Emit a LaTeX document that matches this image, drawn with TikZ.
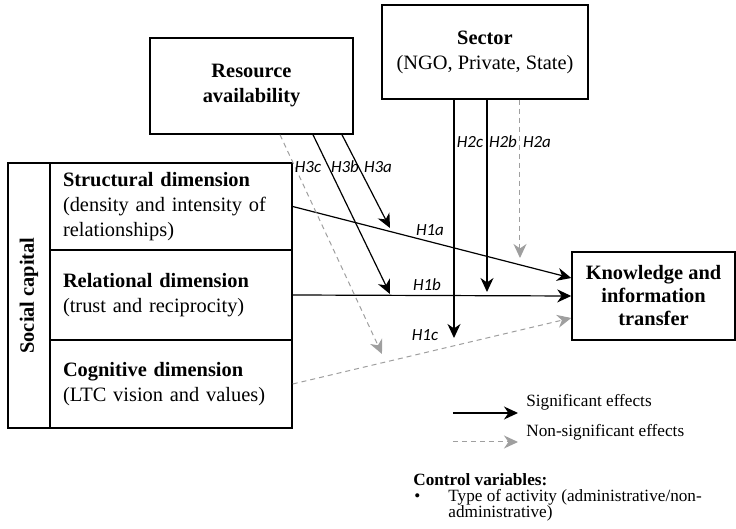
\documentclass[tikz,border=0pt]{standalone}
\usepackage{fontspec}
\setmainfont{Liberation Serif}
\newfontfamily\hlabelfont{Carlito}
\usetikzlibrary{arrows.meta}
\begin{document}
\begin{tikzpicture}[x=0.5pt,y=-0.5pt,
box/.style={draw,line width=0.75pt,align=center,inner sep=0pt,font=\fontsize{10.2}{12.5}\selectfont},
dimbox/.style={box,align=left,text width=108pt,inner xsep=6.5pt,minimum width=121pt},
sig/.style={line width=0.6pt,-{Stealth[length=7pt,width=6.5pt,inset=2.2pt]}},
nonsig/.style={draw=gray!75,line width=0.5pt,dash pattern=on 2.5pt off 2pt,-{Stealth[length=7pt,width=6.5pt,inset=2.2pt,fill=gray!75]}},
hyp/.style={font=\fontsize{8.5}{10}\hlabelfont\itshape,inner sep=0pt},
legend/.style={font=\fontsize{8.6}{10}\selectfont,anchor=base west,inner sep=0pt}]
\useasboundingbox (0,0) rectangle (736,529);
\node[box,rotate=90,minimum width=132.5pt,minimum height=21pt] (soc) at (29,295.5) {\textbf{Social capital}};
\node[dimbox,minimum height=43.5pt] (struct) at (171,206.5) {\textbf{Structural dimension}\\(density and intensity of\\relationships)};
\node[dimbox,minimum height=45pt] (rel) at (171,295) {\textbf{Relational dimension}\\(trust and reciprocity)};
\node[dimbox,minimum height=44pt] (cog) at (171,384) {\textbf{Cognitive dimension}\\(LTC vision and values)};
\node[box,minimum width=101.5pt,minimum height=48pt] (res) at (251.5,86) {\textbf{Resource}\\\textbf{availability}};
\node[box,minimum width=103pt,minimum height=47pt] (sec) at (485,52) {\textbf{Sector}\\(NGO, Private, State)};
\node[box,minimum width=81.5pt,minimum height=44pt,font=\fontsize{10.2}{11.5}\selectfont\bfseries] (know) at (653.5,296) {Knowledge and\\information\\transfer};
\coordinate (h3a-tip) at (390,228);
\coordinate (h3b-tip) at (390,294);
\coordinate (h3c-tip) at (382,354);
\coordinate (h2c-tip) at (454,338);
\coordinate (h2b-tip) at (487,292);
\coordinate (h2a-tip) at (520,258);
\draw[sig] (struct.east) -- ([yshift=9pt]know.west);
\draw[sig] (rel.east) -- (know.west);
\draw[nonsig] (cog.east) -- ([yshift=-11pt]know.west);
\draw[sig] ([xshift=45.25pt]res.south) -- (h3a-tip);
\draw[sig] ([xshift=30.75pt]res.south) -- (h3b-tip);
\draw[nonsig] ([xshift=14.25pt]res.south) -- (h3c-tip);
\draw[sig] ([xshift=-15.5pt]sec.south) -- (h2c-tip);
\draw[sig] ([xshift=1pt]sec.south) -- (h2b-tip);
\draw[nonsig] ([xshift=17.5pt]sec.south) -- (h2a-tip);
\node[hyp] (h1a) at (430,230) {H1a};
\node[hyp] (h1b) at (427,285) {H1b};
\node[hyp] (h1c) at (425,335) {H1c};
\node[hyp] (h3c) at (308,167) {H3c};
\node[hyp] (h3b) at (345,167) {H3b};
\node[hyp] (h3a) at (378,167) {H3a};
\node[hyp] (h2c) at (470,142) {H2c};
\node[hyp] (h2b) at (503,142) {H2b};
\node[hyp] (h2a) at (537,142) {H2a};
\coordinate (sig-from) at (453,413);
\coordinate (sig-to) at (518,413);
\coordinate (nonsig-from) at (453,442);
\coordinate (nonsig-to) at (518,442);
\draw[sig] (sig-from) -- (sig-to);
\draw[nonsig] (nonsig-from) -- (nonsig-to);
\node[legend] (sig-text) at (526,407) {Significant effects};
\node[legend] (nonsig-text) at (526,437) {Non-significant effects};
\node[legend,font=\fontsize{8.6}{10}\selectfont\bfseries] (ctrl) at (413,485.5) {Control variables:};
\node[legend] (ctrl-bullet) at (414,502) {\textbullet};
\node[legend] (ctrl-line1) at (448,502) {Type of activity (administrative/non-};
\node[legend] (ctrl-line2) at (448,517.5) {administrative)};
\end{tikzpicture}
\end{document}
